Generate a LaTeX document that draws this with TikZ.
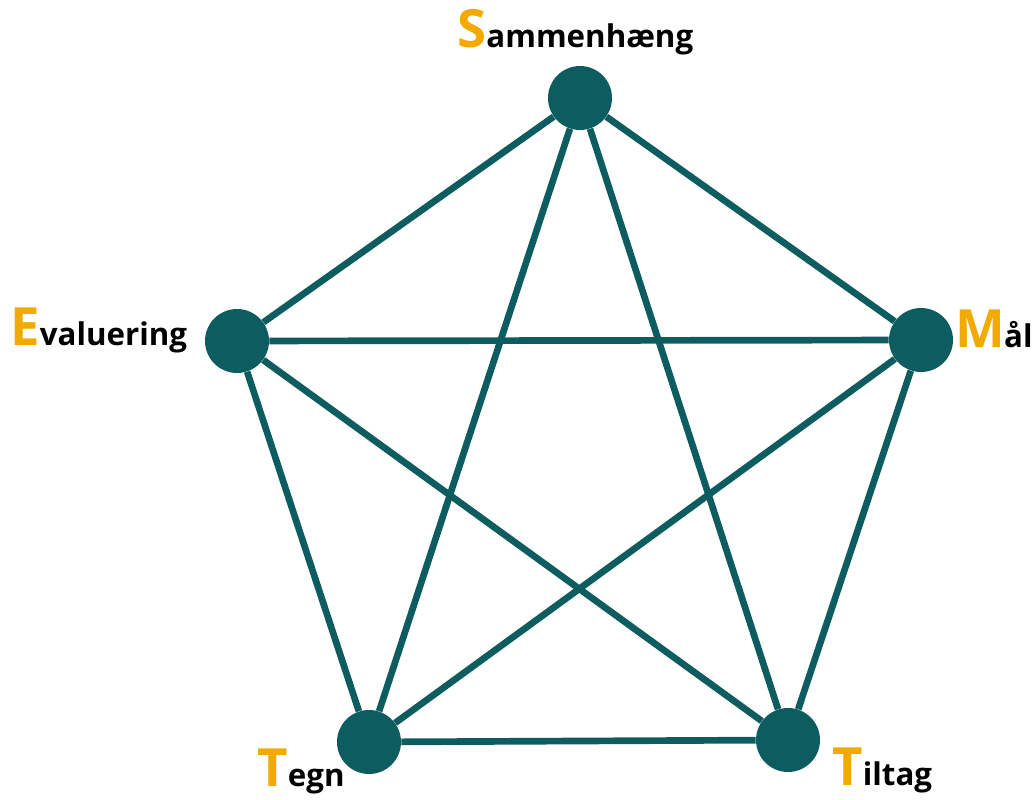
\documentclass[tikz,border=0pt]{standalone}
\usepackage{fontspec}
\setmainfont{Open Sans}
\usetikzlibrary{positioning}

\definecolor{teal}{HTML}{0D5C5F}
\definecolor{initcol}{HTML}{F2A900}
\newcommand{\bigletter}[1]{{\fontsize{30}{30}\selectfont\color{initcol}#1}}

\begin{document}
\begin{tikzpicture}[
  point/.style={circle,fill=teal,minimum size=1.28cm,inner sep=0pt},
  link/.style={draw=teal,line width=3.8pt},
  label/.style={anchor=base west,inner sep=0pt,font=\bfseries\fontsize{17.8}{19}\selectfont}
]
  \useasboundingbox (0,0) rectangle (20.7,15.98);
  \node[point] (s) at (11.60,14.02) {};
  \node[point] (e) at (4.74,9.16) {};
  \node[point] (m) at (18.42,9.18) {};
  \node[point] (tegn) at (7.38,1.14) {};
  \node[point] (tiltag) at (15.76,1.18) {};
  \draw[link] (s) -- (e);
  \draw[link] (s) -- (m);
  \draw[link] (s) -- (tegn);
  \draw[link] (s) -- (tiltag);
  \draw[link] (e) -- (m);
  \draw[link] (e) -- (tegn);
  \draw[link] (e) -- (tiltag);
  \draw[link] (m) -- (tegn);
  \draw[link] (m) -- (tiltag);
  \draw[link] (tegn) -- (tiltag);
  \node[label] (slabel) at (9.14,15.02) {\bigletter{S}ammenhæng};
  \node[label] (elabel) at (0.2,9.08) {\bigletter{E}valuering};
  \node[label] (mlabel) at (19.1,9.04) {\bigletter{M}\kern-0.5pt ål};
  \node[label] (tegnlabel) at (5.14,0.25) {\bigletter{T}egn};
  \node[label] (tiltaglabel) at (16.64,0.27) {\bigletter{T}iltag};
\end{tikzpicture}
\end{document}
